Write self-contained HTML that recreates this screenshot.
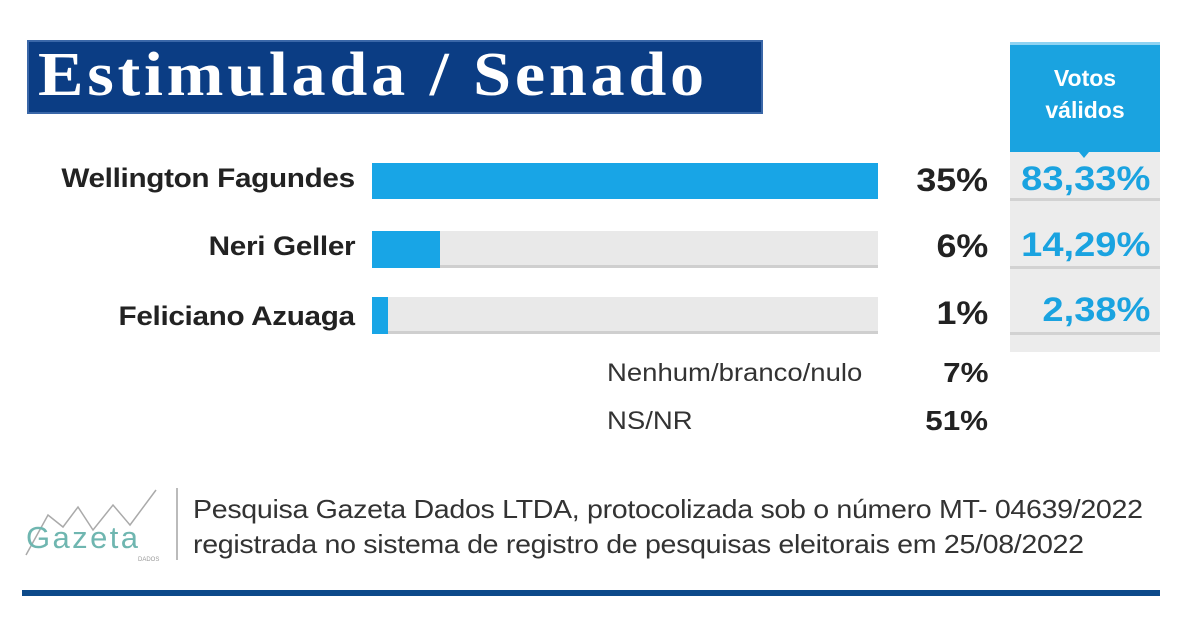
<!DOCTYPE html>
<html><head><meta charset="utf-8"><style>
body{margin:0;width:1200px;height:627px;background:#fff;position:relative;overflow:hidden;font-family:"Liberation Sans",sans-serif;}
.a{position:absolute;}
.name{position:absolute;right:845px;font-weight:bold;font-size:27px;color:#222;letter-spacing:-0.3px;transform:scaleX(1.1);transform-origin:right center;}
.pct{position:absolute;right:212px;font-weight:bold;font-size:32px;color:#222;transform:scaleX(1.12);transform-origin:right center;}
.vv{position:absolute;right:50px;font-weight:bold;font-size:34px;color:#1aa3e0;transform:scaleX(1.12);transform-origin:right center;}
.bg{position:absolute;left:372px;width:506px;background:#e9e9e9;border-bottom:3px solid #cfcfcf;}
.fg{position:absolute;left:372px;background:#18a5e6;}
.sep{position:absolute;left:1010px;width:150px;height:3px;background:#d2d2d2;}
</style></head><body>
<div class="a" style="left:27px;top:40px;width:732px;height:70px;background:#0b3d84;border:2px solid #3a67a8;"></div>
<div class="a" style="left:38px;top:42px;font-family:'Liberation Serif',serif;font-weight:bold;font-size:62px;color:#fff;letter-spacing:3.4px;line-height:66px;transform:scaleX(1.1);transform-origin:left center;">Estimulada / Senado</div>
<div class="a" style="left:1010px;top:152px;width:150px;height:200px;background:#ececec;"></div>
<div class="a" style="left:1010px;top:42px;width:150px;height:110px;background:#1aa3e0;border-top:3px solid #8fd3f2;box-sizing:border-box;"></div>
<div class="a" style="left:1079px;top:152px;width:0;height:0;border-left:5px solid transparent;border-right:5px solid transparent;border-top:6px solid #1aa3e0;"></div>
<div class="a" style="left:1010px;top:62px;width:150px;text-align:center;color:#fff;font-weight:bold;font-size:23px;line-height:32px;">Votos<br>válidos</div>

<div class="bg" style="top:163px;height:33px;"></div><div class="fg" style="top:163px;height:36px;width:506px;"></div>
<div class="bg" style="top:231px;height:34px;"></div><div class="fg" style="top:231px;height:37px;width:68px;"></div>
<div class="bg" style="top:297px;height:34px;"></div><div class="fg" style="top:297px;height:37px;width:16px;"></div>
<div class="sep" style="top:198px"></div><div class="sep" style="top:266px"></div><div class="sep" style="top:332px"></div>

<div class="name" style="top:163px">Wellington Fagundes</div>
<div class="name" style="top:231px">Neri Geller</div>
<div class="name" style="top:301px">Feliciano Azuaga</div>
<div class="pct" style="top:162px">35%</div>
<div class="pct" style="top:228px">6%</div>
<div class="pct" style="top:295px">1%</div>
<div class="vv" style="top:160px">83,33%</div>
<div class="vv" style="top:226px">14,29%</div>
<div class="vv" style="top:291px">2,38%</div>

<div class="a" style="left:607px;top:359px;font-size:25px;color:#333;transform:scaleX(1.1);transform-origin:left center;">Nenhum/branco/nulo</div>
<div class="a" style="left:607px;top:407px;font-size:25px;color:#333;transform:scaleX(1.1);transform-origin:left center;">NS/NR</div>
<div class="pct" style="top:357px;font-size:28px;">7%</div>
<div class="pct" style="top:405px;font-size:28px;">51%</div>

<svg class="a" style="left:18px;top:485px" width="150" height="80">
<polyline points="8,70 30,30 45,42 60,22 75,45 95,20 112,40 138,5" fill="none" stroke="#aaa" stroke-width="1.5"/>
<text x="8" y="63" font-family="Liberation Sans,sans-serif" font-size="31" fill="#6fb6b0" textLength="112">Gazeta</text>
<text x="120" y="76" font-family="Liberation Sans,sans-serif" font-size="6" fill="#999">DADOS</text>
</svg>
<div class="a" style="left:176px;top:488px;width:2px;height:72px;background:#bbb;"></div>
<div class="a" style="left:193px;top:492px;font-size:26px;color:#333;line-height:35px;letter-spacing:-0.3px;white-space:nowrap;transform:scaleX(1.1);transform-origin:left center;">Pesquisa Gazeta Dados LTDA, protocolizada sob o número MT- 04639/2022<br>registrada no sistema de registro de pesquisas eleitorais em 25/08/2022</div>
<div class="a" style="left:22px;top:590px;width:1138px;height:6px;background:#0d4a8a;"></div>
</body></html>
